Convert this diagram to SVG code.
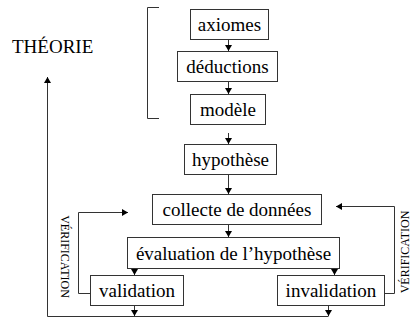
<svg xmlns="http://www.w3.org/2000/svg" width="411" height="320" viewBox="0 0 411 320">
<defs>
<marker id="ah" markerWidth="6" markerHeight="7" refX="6" refY="3.5" orient="auto" markerUnits="userSpaceOnUse">
<path d="M0,0 L6,3.5 L0,7 Z" fill="#000"/>
</marker>
</defs>
<style>
.box{fill:#fff;stroke:#333;stroke-width:1}
.t{font-size:19px;fill:#000;text-anchor:middle}
.v{font-size:12px;fill:#000;text-anchor:middle}
.c{fill:none;stroke:#333;stroke-width:1}
.a{fill:none;stroke:#333;stroke-width:1;marker-end:url(#ah)}
</style>
<rect width="411" height="320" fill="#fff"/>
<g font-family="Liberation Serif, DejaVu Serif, serif">
<g id="bracket"><path class="c" d="M159,7.5 H147.5 V118.5 H159"/></g>
<g id="theorie"><text x="12" y="53" class="t" style="text-anchor:start">THÉORIE</text></g>
<g id="axiomes"><rect class="box" x="190.5" y="9.5" width="78" height="30"/><text class="t" x="229.5" y="30.5">axiomes</text></g>
<g id="deductions"><rect class="box" x="177.5" y="51.5" width="100" height="30"/><text class="t" x="227.5" y="72.5">déductions</text></g>
<g id="modele"><rect class="box" x="190.5" y="94.5" width="75" height="30"/><text class="t" x="228" y="115.5">modèle</text></g>
<g id="hypothese"><rect class="box" x="184.5" y="144.5" width="92" height="30"/><text class="t" x="230.5" y="165.5">hypothèse</text></g>
<g id="collecte"><rect class="box" x="152.5" y="194.5" width="169" height="30"/><text class="t" x="237" y="215.5">collecte de données</text></g>
<g id="evaluation"><rect class="box" x="127.5" y="237.5" width="212" height="31"/><text class="t" x="233.5" y="259.5">évaluation de l’hypothèse</text></g>
<g id="validation"><rect class="box" x="90.5" y="275.5" width="93" height="30"/><text class="t" x="137" y="296.5">validation</text></g>
<g id="invalidation"><rect class="box" x="277.5" y="275.5" width="107" height="30"/><text class="t" x="331" y="296.5">invalidation</text></g>
<g id="verif-left"><text class="v" transform="translate(61,256.5) rotate(90)">VÉRIFICATION</text></g>
<g id="verif-right"><text class="v" transform="translate(409,252) rotate(-90)">VÉRIFICATION</text></g>
</g>
<g id="connectors">
<path class="a" d="M228.5,40 V51"/>
<path class="a" d="M228.5,82 V94"/>
<path class="a" d="M228.5,133 V144"/>
<path class="a" d="M228.5,175 V194"/>
<path class="a" d="M228.5,225 V237"/>
<path class="a" d="M134.5,269 V275"/>
<path class="a" d="M334.5,269 V275"/>
<path class="a" d="M134.5,306 V316"/>
<path class="a" d="M328.5,306 V316"/>
<path class="a" d="M328.5,316.5 H47.5 V77"/>
<path class="a" d="M90.5,293.5 H78.5 V212.5 H128"/>
<path class="a" d="M384.5,293.5 H394.5 V206.5 H336"/>
</g>
</svg>
